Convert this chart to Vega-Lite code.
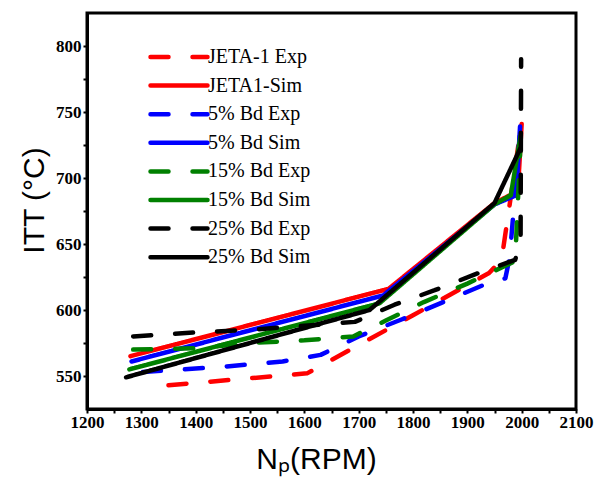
{
  "$schema": "https://vega.github.io/schema/vega-lite/v6.json",
  "width": 489,
  "height": 396,
  "autosize": {"type": "none"},
  "padding": {"left": 87, "top": 13, "right": 21, "bottom": 70},
  "background": "white",
  "config": {
    "view": {"stroke": "black", "strokeWidth": 3},
    "axis": {
      "domainColor": "black", "domainWidth": 3, "tickColor": "black", "tickWidth": 2, "tickSize": 4,
      "grid": false, "labelFont": "Liberation Serif", "labelFontWeight": "bold", "labelFontSize": 17,
      "labelColor": "black", "titleFont": "Liberation Sans", "titleFontWeight": "normal",
      "titleFontSize": 30, "titleColor": "black"
    }
  },
  "data": {
    "values": [
      {"series": "JETA-1 Exp", "rpm": 1350, "itt": 543},
      {"series": "JETA-1 Exp", "rpm": 1605, "itt": 552},
      {"series": "JETA-1 Exp", "rpm": 1800, "itt": 596},
      {"series": "JETA-1 Exp", "rpm": 1940, "itt": 628},
      {"series": "JETA-1 Exp", "rpm": 1963, "itt": 638},
      {"series": "JETA-1 Exp", "rpm": 2000, "itt": 742},
      {"series": "JETA1-Sim", "rpm": 1280, "itt": 565},
      {"series": "JETA1-Sim", "rpm": 1755, "itt": 616},
      {"series": "JETA1-Sim", "rpm": 1950, "itt": 681},
      {"series": "JETA1-Sim", "rpm": 1993, "itt": 690},
      {"series": "JETA1-Sim", "rpm": 2000, "itt": 741},
      {"series": "5% Bd Exp", "rpm": 1303, "itt": 553},
      {"series": "5% Bd Exp", "rpm": 1450, "itt": 557},
      {"series": "5% Bd Exp", "rpm": 1560, "itt": 561},
      {"series": "5% Bd Exp", "rpm": 1630, "itt": 566},
      {"series": "5% Bd Exp", "rpm": 1700, "itt": 580},
      {"series": "5% Bd Exp", "rpm": 1780, "itt": 593},
      {"series": "5% Bd Exp", "rpm": 1850, "itt": 605},
      {"series": "5% Bd Exp", "rpm": 1930, "itt": 619},
      {"series": "5% Bd Exp", "rpm": 1970, "itt": 624},
      {"series": "5% Bd Exp", "rpm": 1978, "itt": 640},
      {"series": "5% Bd Exp", "rpm": 1998, "itt": 739},
      {"series": "5% Bd Sim", "rpm": 1282, "itt": 561},
      {"series": "5% Bd Sim", "rpm": 1745, "itt": 611},
      {"series": "5% Bd Sim", "rpm": 1950, "itt": 680},
      {"series": "5% Bd Sim", "rpm": 1990, "itt": 687},
      {"series": "5% Bd Sim", "rpm": 1997, "itt": 739},
      {"series": "15% Bd Exp", "rpm": 1285, "itt": 570},
      {"series": "15% Bd Exp", "rpm": 1400, "itt": 571},
      {"series": "15% Bd Exp", "rpm": 1500, "itt": 575},
      {"series": "15% Bd Exp", "rpm": 1600, "itt": 577},
      {"series": "15% Bd Exp", "rpm": 1690, "itt": 580},
      {"series": "15% Bd Exp", "rpm": 1750, "itt": 592},
      {"series": "15% Bd Exp", "rpm": 1820, "itt": 606},
      {"series": "15% Bd Exp", "rpm": 1900, "itt": 620},
      {"series": "15% Bd Exp", "rpm": 1988, "itt": 637},
      {"series": "15% Bd Exp", "rpm": 2000, "itt": 745},
      {"series": "15% Bd Sim", "rpm": 1278, "itt": 555},
      {"series": "15% Bd Sim", "rpm": 1738, "itt": 605},
      {"series": "15% Bd Sim", "rpm": 1950, "itt": 680},
      {"series": "15% Bd Sim", "rpm": 1980, "itt": 687},
      {"series": "15% Bd Sim", "rpm": 1998, "itt": 732},
      {"series": "25% Bd Exp", "rpm": 1285, "itt": 580},
      {"series": "25% Bd Exp", "rpm": 1400, "itt": 583},
      {"series": "25% Bd Exp", "rpm": 1500, "itt": 585},
      {"series": "25% Bd Exp", "rpm": 1600, "itt": 588},
      {"series": "25% Bd Exp", "rpm": 1693, "itt": 591},
      {"series": "25% Bd Exp", "rpm": 1766, "itt": 604},
      {"series": "25% Bd Exp", "rpm": 1840, "itt": 615},
      {"series": "25% Bd Exp", "rpm": 1914, "itt": 627},
      {"series": "25% Bd Exp", "rpm": 1988, "itt": 638},
      {"series": "25% Bd Exp", "rpm": 1998, "itt": 652},
      {"series": "25% Bd Exp", "rpm": 1999, "itt": 790},
      {"series": "25% Bd Sim", "rpm": 1272, "itt": 549},
      {"series": "25% Bd Sim", "rpm": 1720, "itt": 600},
      {"series": "25% Bd Sim", "rpm": 1950, "itt": 681},
      {"series": "25% Bd Sim", "rpm": 1997, "itt": 722}
    ]
  },
  "mark": {"type": "line", "strokeCap": "round", "strokeJoin": "round"},
  "encoding": {
    "x": {
      "field": "rpm", "type": "quantitative",
      "scale": {"domain": [1200, 2100], "nice": false, "zero": false},
      "axis": {
        "title": "Nₚ(RPM)",
        "values": [1200, 1250, 1300, 1350, 1400, 1450, 1500, 1550, 1600, 1650, 1700, 1750, 1800, 1850, 1900, 1950, 2000, 2050, 2100],
        "labelExpr": "datum.value % 100 == 0 ? datum.label : ''",
        "format": "d",
        "labelPadding": 1, "labelFlush": false, "labelOverlap": false,
        "titleX": 229, "titleY": 59, "titleBaseline": "alphabetic", "titleAlign": "center"
      }
    },
    "y": {
      "field": "itt", "type": "quantitative",
      "scale": {"domain": [525, 825], "nice": false, "zero": false},
      "axis": {
        "title": "ITT (°C)",
        "values": [550, 575, 600, 625, 650, 675, 700, 725, 750, 775, 800],
        "labelExpr": "datum.value % 50 == 0 ? datum.label : ''",
        "labelPadding": 2, "labelOverlap": false,
        "titleX": -44, "titleY": 187, "titleAngle": -90, "titleAlign": "center", "titleBaseline": "alphabetic"
      }
    },
    "color": {
      "field": "series", "type": "nominal",
      "scale": {
        "domain": ["JETA-1 Exp", "JETA1-Sim", "5% Bd Exp", "5% Bd Sim", "15% Bd Exp", "15% Bd Sim", "25% Bd Exp", "25% Bd Sim"],
        "range": ["#ff0000", "#ff0000", "#0000ff", "#0000ff", "#008000", "#008000", "#000000", "#000000"]
      },
      "legend": {
        "title": null, "orient": "none", "legendX": 61, "legendY": 34,
        "symbolType": "stroke", "symbolSize": 3249, "clipHeight": 20,
        "labelFont": "Liberation Serif", "labelFontSize": 20, "labelColor": "black",
        "labelOffset": -2, "rowPadding": 8.6, "padding": 0, "labelLimit": 300,
        "encode": {"symbols": {"update": {"strokeCap": {"value": "round"}}}}
      }
    },
    "strokeDash": {
      "field": "series", "type": "nominal",
      "scale": {
        "domain": ["JETA-1 Exp", "JETA1-Sim", "5% Bd Exp", "5% Bd Sim", "15% Bd Exp", "15% Bd Sim", "25% Bd Exp", "25% Bd Sim"],
        "range": [[18, 24], [1, 0], [18, 24], [1, 0], [18, 24], [1, 0], [18, 24], [1, 0]]
      }
    },
    "strokeWidth": {
      "field": "series", "type": "nominal",
      "scale": {
        "domain": ["JETA-1 Exp", "JETA1-Sim", "5% Bd Exp", "5% Bd Sim", "15% Bd Exp", "15% Bd Sim", "25% Bd Exp", "25% Bd Sim"],
        "range": [4.5, 4.5, 4.5, 4.5, 4.5, 4.5, 4.5, 3.5]
      }
    }
  }
}
